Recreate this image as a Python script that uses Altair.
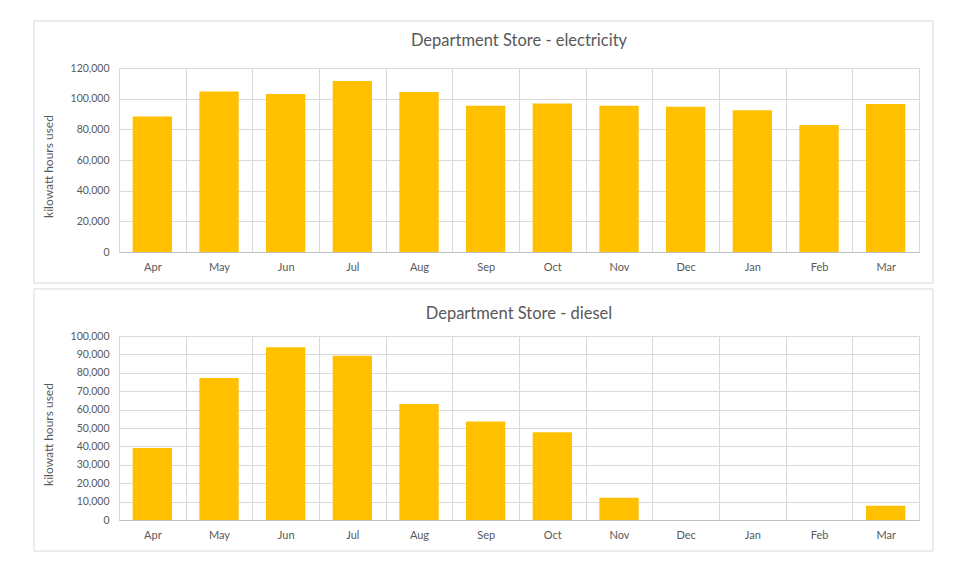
import altair as alt
import pandas as pd

months = ["Apr", "May", "Jun", "Jul", "Aug", "Sep", "Oct", "Nov", "Dec", "Jan", "Feb", "Mar"]
electricity = [88400, 104600, 103000, 111500, 104300, 95400, 96900, 95400, 94800, 92400, 82800, 96500]
diesel = [39100, 77200, 93900, 89200, 63000, 53500, 47700, 12100, 0, 0, 0, 7800]

FONT = "Lato"
GREY = "#595959"


def panel(values, title, ymax, step, title_offset):
    df = pd.DataFrame({"month": months, "kwh": values})
    border = alt.Chart(alt.Data(values=[{}])).mark_rect(
        fill="white", fillOpacity=0, stroke="#d9d9d9", strokeWidth=1
    ).encode(
        x=alt.value(-85), x2=alt.value(814), y=alt.value(-47), y2=alt.value(215)
    )
    bars = alt.Chart(df).mark_bar(
        color="#FFC000", width=alt.RelativeBandSize(0.59)
    ).encode(
        x=alt.X(
            "month:N",
            sort=months,
            scale=alt.Scale(paddingInner=0, paddingOuter=0),
            axis=alt.Axis(
                title=None, labelAngle=0, tickBand="extent", grid=True,
                gridColor="#d9d9d9", ticks=False, labelPadding=9,
                labelFont=FONT, labelFontSize=11, labelColor=GREY,
                domainColor="#bfbfbf",
            ),
        ),
        y=alt.Y(
            "kwh:Q",
            scale=alt.Scale(domain=[0, ymax], nice=False),
            axis=alt.Axis(
                values=list(range(0, ymax + 1, step)), format=",.0f",
                title="kilowatt hours used", titleFont=FONT, titleFontSize=12,
                titleFontWeight="normal", titleColor=GREY,
                titleX=-64, titleY=98,
                labelFont=FONT, labelFontSize=10.5, labelColor=GREY,
                labelPadding=10, ticks=False, domain=False,
                gridColor="#d9d9d9",
            ),
        ),
    )
    return alt.layer(border, bars).properties(
        width=800, height=184,
        title=alt.TitleParams(
            text=title, font=FONT, fontSize=16.5, fontWeight="normal",
            color=GREY, offset=title_offset, anchor="middle",
        ),
    )


top = panel(electricity, "Department Store - electricity", 120000, 20000, -29)
bottom = panel(diesel, "Department Store - diesel", 100000, 10000, -34)

chart = alt.vconcat(top, bottom, spacing=4).properties(
    padding={"left": 33, "top": 20, "right": 0, "bottom": 0}
).configure_view(stroke=None).configure(background="white")

chart.save("out.html", embed_options={"renderer": "svg", "actions": False})
